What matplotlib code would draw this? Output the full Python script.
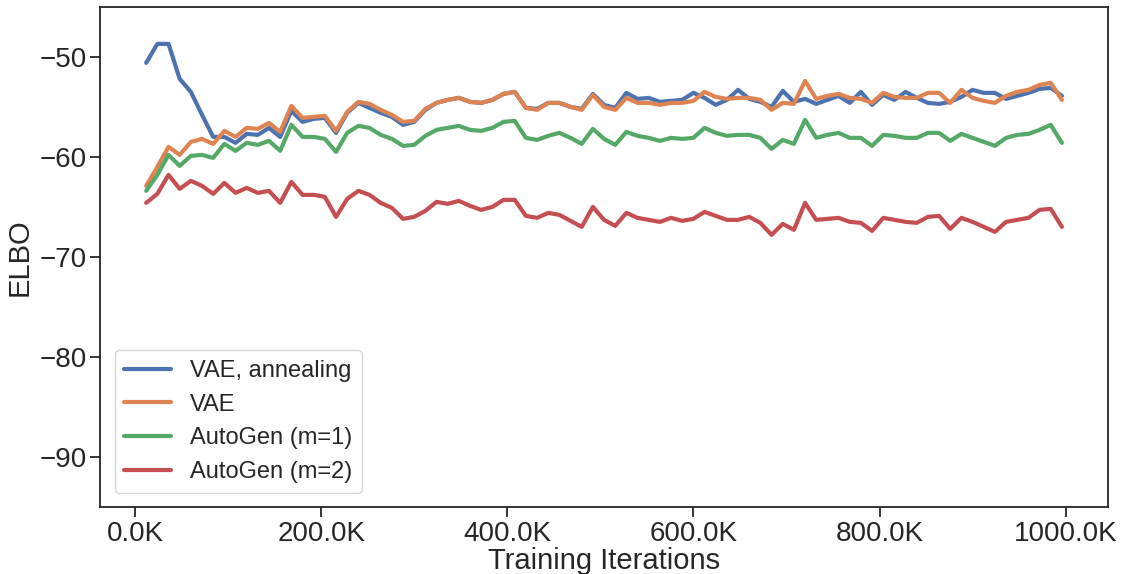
import numpy as np
import matplotlib
matplotlib.use("Agg")
import matplotlib.pyplot as plt
import seaborn as sns
from matplotlib.ticker import FuncFormatter

sns.set_style("ticks")
plt.rcParams['font.family'] = ['Liberation Sans', 'DejaVu Sans']

# training iterations, one point every 12K
iters = np.arange(12000, 996001, 12000)

vae_anneal = [-50.6, -48.7, -48.7, -52.2, -53.5, -55.8, -58.0, -58.0, -58.6, -57.7,
              -57.8, -57.1, -58.0, -55.4, -56.5, -56.2, -56.1, -57.6, -55.6, -54.6,
              -55.1, -55.6, -56.0, -56.8, -56.5, -55.3, -54.6, -54.3, -54.1, -54.5,
              -54.6, -54.3, -53.7, -53.5, -55.1, -55.2, -54.6, -54.6, -55.0, -55.2,
              -53.7, -54.8, -55.1, -53.6, -54.2, -54.1, -54.5, -54.4, -54.3, -53.6,
              -54.1, -54.8, -54.3, -53.3, -54.2, -54.5, -55.0, -53.4, -54.5, -54.2,
              -54.7, -54.3, -53.9, -54.6, -53.5, -54.8, -53.8, -54.3, -53.5, -54.1,
              -54.6, -54.7, -54.5, -54.0, -53.3, -53.6, -53.6, -54.2, -53.9, -53.6,
              -53.2, -53.1, -53.9]

vae = [-62.9, -61.0, -59.0, -59.8, -58.5, -58.2, -58.7, -57.4, -58.0, -57.1,
       -57.2, -56.6, -57.5, -54.9, -56.1, -56.0, -55.9, -57.4, -55.5, -54.5,
       -54.7, -55.3, -55.8, -56.5, -56.4, -55.2, -54.6, -54.3, -54.1, -54.5,
       -54.6, -54.3, -53.7, -53.5, -55.1, -55.3, -54.6, -54.6, -55.0, -55.3,
       -53.8, -55.0, -55.3, -54.1, -54.6, -54.6, -54.8, -54.6, -54.6, -54.4,
       -53.5, -54.0, -54.2, -54.1, -54.1, -54.3, -55.3, -54.6, -54.7, -52.4,
       -54.2, -53.9, -53.7, -54.1, -54.2, -54.6, -53.6, -54.0, -54.1, -54.1,
       -53.6, -53.6, -54.6, -53.3, -54.1, -54.4, -54.6, -53.9, -53.5, -53.3,
       -52.8, -52.6, -54.3]

autogen_m1 = [-63.4, -61.8, -59.8, -60.9, -59.9, -59.8, -60.1, -58.7, -59.4, -58.6,
              -58.8, -58.4, -59.4, -56.8, -58.0, -58.0, -58.2, -59.5, -57.6, -56.9,
              -57.1, -57.8, -58.2, -58.9, -58.8, -57.9, -57.3, -57.1, -56.9, -57.3,
              -57.4, -57.1, -56.5, -56.4, -58.1, -58.3, -57.9, -57.6, -58.1, -58.7,
              -57.2, -58.2, -58.8, -57.5, -57.9, -58.1, -58.4, -58.1, -58.2, -58.1,
              -57.1, -57.6, -57.9, -57.8, -57.8, -58.1, -59.2, -58.3, -58.7, -56.3,
              -58.1, -57.8, -57.6, -58.1, -58.1, -58.9, -57.8, -57.9, -58.1, -58.1,
              -57.6, -57.6, -58.4, -57.7, -58.1, -58.5, -58.9, -58.1, -57.8, -57.7,
              -57.3, -56.8, -58.6]

autogen_m2 = [-64.6, -63.7, -61.8, -63.2, -62.4, -62.9, -63.7, -62.6, -63.6, -63.1,
              -63.6, -63.4, -64.6, -62.5, -63.8, -63.8, -64.0, -66.0, -64.2, -63.4,
              -63.8, -64.6, -65.1, -66.2, -66.0, -65.4, -64.5, -64.7, -64.4, -64.9,
              -65.3, -65.0, -64.3, -64.3, -65.9, -66.1, -65.6, -65.8, -66.4, -67.0,
              -65.0, -66.3, -66.9, -65.6, -66.1, -66.3, -66.5, -66.1, -66.4, -66.2,
              -65.5, -65.9, -66.3, -66.3, -66.0, -66.6, -67.8, -66.7, -67.3, -64.6,
              -66.3, -66.2, -66.1, -66.5, -66.6, -67.4, -66.1, -66.3, -66.5, -66.6,
              -66.0, -65.9, -67.2, -66.1, -66.5, -67.0, -67.5, -66.5, -66.3, -66.1,
              -65.3, -65.2, -67.0]

labels = ["VAE, annealing", "VAE", "AutoGen (m=1)", "AutoGen (m=2)"]
series = [vae_anneal, vae, autogen_m1, autogen_m2]
colors = sns.color_palette("deep", 4)

fig, ax = plt.subplots(figsize=(11.28, 5.74), dpi=100)
for ys, lab, c in zip(series, labels, colors):
    ax.plot(iters, ys, color=c, lw=3, label=lab)

ax.set_ylim(-95, -45)
ax.set_yticks([-90, -80, -70, -60, -50])
ax.set_xticks(np.arange(0, 1000001, 200000))
ax.xaxis.set_major_formatter(FuncFormatter(lambda x, p: "%.1fK" % (x / 1000)))
ax.tick_params(labelsize=20, length=7, width=1.3, pad=3)
ax.set_xlabel("Training Iterations", fontsize=21, labelpad=0)
ax.set_ylabel("ELBO", fontsize=21)
for s in ax.spines.values():
    s.set_linewidth(1.3)

ax.legend(loc="lower left", fontsize=17, borderaxespad=0.6)

fig.subplots_adjust(left=0.089, right=0.982, top=0.988, bottom=0.117)
fig.savefig("out.png")
